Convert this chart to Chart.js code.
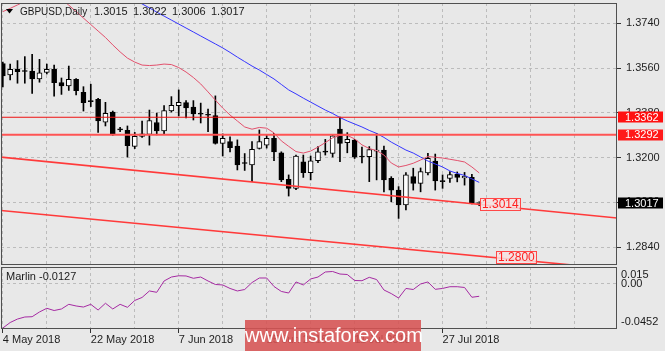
<!DOCTYPE html>
<html>
<head>
<meta charset="utf-8">
<script src="https://cdn.jsdelivr.net/npm/chart.js@4.4.1/dist/chart.umd.min.js"></script>
<style>
  html, body { margin:0; padding:0; background:#e8e8e8; }
  #wrap { position:relative; width:665px; height:351px; overflow:hidden; background:#e8e8e8; }
  canvas { position:absolute; left:0; }
  #c1 { top:0; }
  #c2 { top:266px; }
  #wm { position:absolute; left:245px; top:320px; width:176px; height:31px; background:rgba(214,82,82,0.88); color:#fff;
        font-family:"Liberation Sans Narrow","Liberation Sans",sans-serif; font-size:20px; line-height:31px; text-align:center; white-space:nowrap; }
</style>
</head>
<body>
<div id="wrap">
  <canvas id="c1" width="665" height="267" style="width:665px;height:267px"></canvas>
  <canvas id="c2" width="665" height="85" style="width:665px;height:85px"></canvas>
  <div id="wm">www.instaforex.com</div>
</div>
<script>
// ---------- data ----------
const symbolTitle = 'GBPUSD,Daily';
const titleValues = ['1.3015', '1.3022', '1.3006', '1.3017'];

const openP  = [1.3578,1.3532,1.3555,1.3548,1.3548,1.3516,1.3542,1.3555,1.3502,1.3488,
                1.3515,1.3462,1.3427,1.3434,1.3342,1.3383,1.3313,1.3309,1.3245,1.3285,
                1.3293,1.3341,1.3307,1.3388,1.3409,1.3421,1.3403,1.3377,1.3373,1.3369,
                1.3257,1.3264,1.3246,1.3178,1.3170,1.3237,1.3250,1.3277,1.3219,1.3112,
                1.3076,1.3183,1.3139,1.3187,1.3224,1.3217,1.3314,1.3260,1.3270,1.3204,
                1.3203,1.3226,1.3230,1.3116,1.3069,1.3009,1.3123,1.3096,1.3138,1.3186,
                1.3104,1.3116,1.3132,1.3118,1.3120,1.3015];
const highP  = [1.3584,1.3576,1.3590,1.3606,1.3615,1.3595,1.3576,1.3572,1.3520,1.3568,
                1.3518,1.3485,1.3495,1.3438,1.3422,1.3387,1.3321,1.3327,1.3301,1.3347,
                1.3391,1.3379,1.3409,1.3445,1.3472,1.3429,1.3429,1.3419,1.3395,1.3448,
                1.3295,1.3283,1.3271,1.3216,1.3264,1.3311,1.3291,1.3297,1.3223,1.3130,
                1.3210,1.3210,1.3206,1.3244,1.3273,1.3293,1.3363,1.3300,1.3273,1.3242,
                1.3244,1.3297,1.3246,1.3123,1.3083,1.3139,1.3157,1.3158,1.3217,1.3214,
                1.3130,1.3143,1.3142,1.3140,1.3132,1.3022];
const lowP   = [1.3484,1.3512,1.3499,1.3499,1.3458,1.3503,1.3536,1.3447,1.3454,1.3470,
                1.3452,1.3387,1.3405,1.3301,1.3327,1.3289,1.3304,1.3202,1.3236,1.3281,
                1.3250,1.3291,1.3295,1.3383,1.3367,1.3359,1.3351,1.3339,1.3304,1.3254,
                1.3206,1.3223,1.3150,1.3148,1.3103,1.3234,1.3238,1.3187,1.3103,1.3045,
                1.3071,1.3120,1.3110,1.3179,1.3210,1.3202,1.3183,1.3219,1.3196,1.3178,
                1.3103,1.3110,1.3062,1.3022,1.2955,1.2989,1.3069,1.3062,1.3130,1.3069,
                1.3076,1.3100,1.3102,1.3089,1.3013,1.3006];
const closeP = [1.3528,1.3555,1.3545,1.3546,1.3516,1.3541,1.3555,1.3501,1.3488,1.3515,
                1.3469,1.3421,1.3425,1.3347,1.3378,1.3291,1.3311,1.3248,1.3285,1.3295,
                1.3349,1.3307,1.3389,1.3410,1.3422,1.3400,1.3375,1.3374,1.3370,1.3257,
                1.3277,1.3240,1.3170,1.3176,1.3233,1.3264,1.3277,1.3223,1.3110,1.3076,
                1.3206,1.3139,1.3187,1.3223,1.3222,1.3287,1.3257,1.3273,1.3201,1.3202,
                1.3232,1.3230,1.3110,1.3069,1.3009,1.3130,1.3096,1.3143,1.3197,1.3106,
                1.3103,1.3131,1.3120,1.3124,1.3016,1.3017];

const maFast = [1.3787,1.3800,1.3814,1.3828,null,null,null,null,1.3838,1.3813,
                1.3787,1.3761,1.3735,1.3709,1.3683,1.3653,1.3625,1.3600,1.3584,1.3572,
                1.3570,1.3572,1.3576,1.3574,1.3562,1.3544,1.3522,1.3496,1.3464,1.3431,
                1.3399,1.3371,1.3347,1.3323,1.3314,1.3321,1.3318,1.3299,1.3267,1.3245,
                1.3224,1.3218,1.3226,1.3242,1.3260,1.3279,1.3289,1.3289,1.3275,1.3251,
                1.3236,1.3228,1.3210,1.3178,1.3162,1.3168,1.3177,1.3190,1.3204,1.3201,
                1.3198,1.3193,1.3188,1.3182,1.3162,1.3138];
const maSlow = [null,null,null,null,null,null,null,null,null,null,
                null,null,null,null,null,null,null,null,1.3834,1.3818,
                1.3802,1.3785,1.3769,1.3753,1.3737,1.3721,1.3705,1.3689,1.3673,1.3657,
                1.3641,1.3623,1.3604,1.3586,1.3568,1.3552,1.3534,1.3516,1.3494,1.3472,
                1.3456,1.3439,1.3423,1.3407,1.3391,1.3377,1.3361,1.3347,1.3335,1.3323,
                1.3309,1.3297,1.3281,1.3262,1.3246,1.3230,1.3218,1.3202,1.3186,1.3174,
                1.3162,1.3146,1.3136,1.3128,1.3114,1.3100];

const marlin = [-0.0455,-0.0398,-0.0362,-0.0341,-0.0338,-0.0289,-0.0251,-0.0274,-0.0258,-0.0210,
                -0.0227,-0.0238,-0.0210,-0.0269,-0.0199,-0.0258,-0.0210,-0.0241,-0.0170,-0.0139,
                -0.0072,-0.0086, 0.0031, 0.0072, 0.0085, 0.0083, 0.0059, 0.0072, 0.0031,-0.0005,
                -0.0010,-0.0046,-0.0072,-0.0057, 0.0015, 0.0062, 0.0062,-0.0026,-0.0077,-0.0093,
                 0.0021,-0.0010, 0.0052, 0.0072, 0.0124, 0.0129, 0.0103, 0.0098, 0.0036, 0.0034,
                 0.0069, 0.0046,-0.0062,-0.0099,-0.0145,-0.0046,-0.0057, 0.0000, 0.0021,-0.0055,
                -0.0046,-0.0028,-0.0028,-0.0036,-0.0137,-0.0127];
const marlinTitle = 'Marlin -0.0127';

const priceTicks  = [1.2840, 1.3020, 1.3200, 1.3380, 1.3560, 1.3740];
const marlinTicks = [0.015, 0, -0.0452];
const marlinTickText = ['0.015', '0.00', '-0.0452'];
const hLevels = [1.3362, 1.3292];
const lastPrice = 1.3017;
const channelUpper = [[-1, 1.3204], [85, 1.2953]];
const channelLower = [[-1, 1.2989], [85, 1.2747]];
const priceTags = [{bar: 65.1, value: 1.3014, text: '1.3014'}, {bar: 67.3, value: 1.2800, text: '1.2800'}];
const gridBars  = [0, 6, 12, 18, 24, 30, 36, 42, 48, 54, 60, 66, 72, 78];
const dateBars  = [0, 12, 24, 36, 48, 60];
const dateTexts = ['4 May 2018', '22 May 2018', '7 Jun 2018', '25 Jun 2018', '11 Jul 2018', '27 Jul 2018'];

// ---------- setup ----------
const FONT = '"Liberation Sans", Arial, sans-serif';
Chart.defaults.font.family = FONT;
Chart.defaults.font.size = 11;
Chart.defaults.color = '#1e1e1e';

const X_MIN = -0.25, X_MAX = 83.8;
const Y_MIN = 1.27676, Y_MAX = 1.38217;
const M_MIN = -0.04649, M_MAX = 0.01756;
const GRID = '#bcbcbc';
const FRAME = '#505050';

const idx = openP.map((_, i) => i);
const bodies = idx.map(i => ({x: i, y: [openP[i], closeP[i]]}));
const wicks  = idx.map(i => ({x: i, y: [lowP[i], highP[i]]}));
const bodyFill = idx.map(i => closeP[i] >= openP[i] ? '#ffffff' : '#000000');
const toXY = arr => arr.map((v, i) => ({x: i, y: v}));
const seg = pts => pts.map(([x, y]) => ({x, y}));
const lineDs = (data, color, width, order) => ({type: 'line', data, borderColor: color, borderWidth: width,
  pointRadius: 0, tension: 0, spanGaps: false, order});
const noPad = s => { s.paddingTop = 0; s.paddingBottom = 0; s.paddingLeft = 0; s.paddingRight = 0; };

function frame(ctx, a) {
  ctx.strokeStyle = FRAME; ctx.lineWidth = 1;
  ctx.strokeRect(Math.round(a.left) + 0.5, Math.round(a.top) + 0.5,
                 Math.round(a.right - a.left) - 1, Math.round(a.bottom - a.top) - 1);
}

const overlay1 = {
  id: 'overlay1',
  afterDraw(chart) {
    const {ctx, chartArea: a, scales: {x, y}} = chart;
    ctx.save();
    frame(ctx, a);
    // title
    ctx.fillStyle = '#000';
    ctx.beginPath(); ctx.moveTo(6, 9); ctx.lineTo(13, 9); ctx.lineTo(9.5, 13.5); ctx.closePath(); ctx.fill();
    ctx.textBaseline = 'middle'; ctx.textAlign = 'left';
    ctx.fillStyle = '#1a1a1a';
    ctx.font = '10px ' + FONT;
    ctx.fillText(symbolTitle, 20, 12);
    ctx.font = '11px ' + FONT;
    const tx = [94, 133, 172, 211];
    titleValues.forEach((t, k) => ctx.fillText(t, tx[k], 12));
    // right-axis price boxes
    const box = (val, bg) => {
      const py = y.getPixelForValue(val);
      ctx.fillStyle = bg; ctx.fillRect(a.right + 1, Math.round(py) - 5.5, 45, 11);
      ctx.fillStyle = '#ffffff'; ctx.fillText(val.toFixed(4), a.right + 8, py + 0.5);
    };
    box(hLevels[0], '#ff1010');
    box(hLevels[1], '#ff1a1a');
    box(lastPrice, '#000000');
    // in-chart price tags
    ctx.font = '12px ' + FONT;
    priceTags.forEach(t => {
      const px = x.getPixelForValue(t.bar), py = y.getPixelForValue(t.value);
      const w = ctx.measureText(t.text).width + 3;
      ctx.fillStyle = 'rgba(246,226,226,0.85)';
      ctx.fillRect(px, py - 6, w, 12);
      ctx.strokeStyle = '#ff4848'; ctx.lineWidth = 1;
      ctx.strokeRect(Math.round(px) + 0.5, Math.round(py - 6) + 0.5, Math.round(w), 12);
      ctx.fillStyle = '#ff2020';
      ctx.fillText(t.text, px + 2, py + 0.5);
    });
    ctx.restore();
  }
};

const overlay2 = {
  id: 'overlay2',
  afterDraw(chart) {
    const {ctx, chartArea: a, scales: {y}} = chart;
    ctx.save();
    frame(ctx, a);
    ctx.font = '11px ' + FONT; ctx.textBaseline = 'middle'; ctx.textAlign = 'left';
    ctx.fillStyle = '#1a1a1a';
    ctx.fillText(marlinTitle, 6, 11);
    marlinTicks.forEach((v, k) => {
      let py = y.getPixelForValue(v);
      py = Math.min(Math.max(py, a.top + 8), a.bottom - 7);
      ctx.fillText(marlinTickText[k], a.right + 4, py);
    });
    ctx.restore();
  }
};

new Chart(document.getElementById('c1'), {
  type: 'bar',
  data: {
    datasets: [
      lineDs(seg(channelUpper), '#ff3a3a', 1.6, 1),
      lineDs(seg(channelLower), '#ff3a3a', 1.6, 1),
      lineDs([{x: -1, y: hLevels[0]}, {x: 85, y: hLevels[0]}], '#ee1010', 1.2, 1),
      lineDs([{x: -1, y: hLevels[1]}, {x: 85, y: hLevels[1]}], '#ff5454', 2, 1),
      lineDs(toXY(maFast), '#e2506c', 1, 2),
      lineDs(toXY(maSlow), '#3535ff', 1, 2),
      {type: 'bar', data: bodies, backgroundColor: bodyFill, borderColor: '#000', borderWidth: 1,
       borderSkipped: false, barThickness: 5, minBarLength: 1, grouped: false, order: 3},
      {type: 'bar', data: wicks, backgroundColor: '#000', borderWidth: 0,
       barThickness: 1, grouped: false, order: 4}
    ]
  },
  options: {
    responsive: false, animation: false, devicePixelRatio: 1,
    layout: {padding: {left: 1, right: 0, top: 3, bottom: 2}},
    plugins: {legend: {display: false}, tooltip: {enabled: false}},
    scales: {
      x: {
        type: 'linear', min: X_MIN, max: X_MAX, offset: false,
        afterBuildTicks: s => { s.ticks = gridBars.map(v => ({value: v})); },
        ticks: {display: false},
        grid: {color: GRID, drawTicks: false, lineWidth: 1, offset: false},
        border: {display: false, dash: [3, 3]},
        afterFit: s => { s.height = 0; noPad(s); }
      },
      y: {
        type: 'linear', position: 'right', min: Y_MIN, max: Y_MAX, beginAtZero: false,
        afterBuildTicks: s => { s.ticks = priceTicks.map(v => ({value: v})); },
        ticks: {callback: v => Number(v).toFixed(4), padding: 5, color: '#1e1e1e', autoSkip: false},
        grid: {color: GRID, tickColor: '#333333', tickLength: 4, tickBorderDash: []},
        border: {display: false, dash: [3, 3]},
        afterFit: s => { s.width = 48; noPad(s); }
      }
    }
  },
  plugins: [overlay1]
});

new Chart(document.getElementById('c2'), {
  type: 'line',
  data: {datasets: [lineDs(toXY(marlin), '#a52aa2', 1, 1)]},
  options: {
    responsive: false, animation: false, devicePixelRatio: 1,
    layout: {padding: {left: 1, right: 0, top: 1, bottom: 0}},
    plugins: {legend: {display: false}, tooltip: {enabled: false}},
    scales: {
      x: {
        type: 'linear', min: X_MIN, max: X_MAX, offset: false,
        afterBuildTicks: s => { s.ticks = gridBars.map(v => ({value: v})); },
        ticks: {autoSkip: false, maxRotation: 0, align: 'start', padding: 0, color: '#1e1e1e',
                callback: v => { const k = dateBars.indexOf(v); return k >= 0 ? dateTexts[k] : ''; }},
        grid: {color: GRID, tickLength: 4, tickBorderDash: [],
               tickColor: c => (c.tick && dateBars.includes(c.tick.value)) ? '#333333' : 'rgba(0,0,0,0)'},
        border: {display: false, dash: [3, 3]},
        afterFit: s => { s.height = 22; noPad(s); }
      },
      y: {
        type: 'linear', position: 'right', min: M_MIN, max: M_MAX,
        afterBuildTicks: s => { s.ticks = [{value: 0}]; },
        ticks: {display: false},
        grid: {color: GRID, drawTicks: false},
        border: {display: false, dash: [3, 3]},
        afterFit: s => { s.width = 48; noPad(s); }
      }
    }
  },
  plugins: [overlay2]
});
</script>
</body>
</html>
